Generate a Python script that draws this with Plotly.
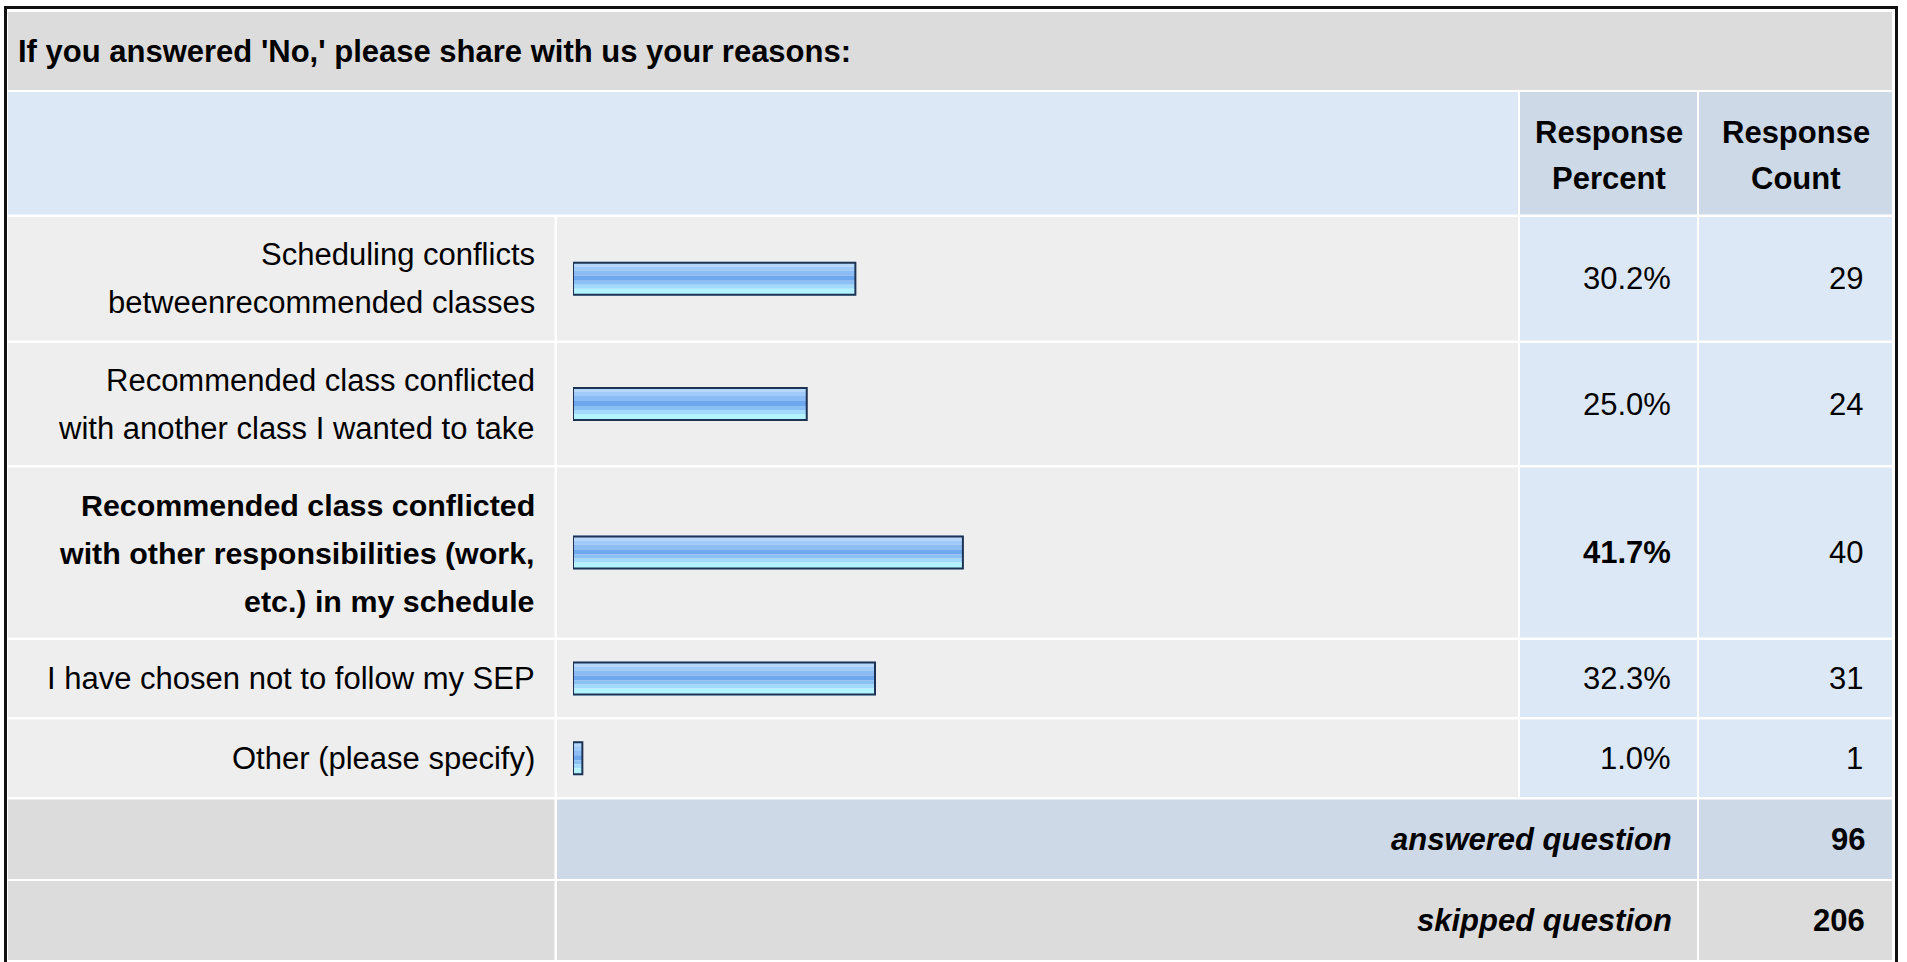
import plotly.graph_objects as go

# ---------------- data ----------------
title = "If you answered 'No,' please share with us your reasons:"
col_headers = ["Response<br>Percent", "Response<br>Count"]
categories = [
    "Scheduling conflicts<br>betweenrecommended classes",
    "Recommended class conflicted<br>with another class I wanted to take",
    "Recommended class conflicted<br>with other responsibilities (work,<br>etc.) in my schedule",
    "I have chosen not to follow my SEP",
    "Other (please specify)",
]
percents = [30.2, 25.0, 41.7, 32.3, 1.0]
counts = [29, 24, 40, 31, 1]
answered_label = "answered question"
answered_count = 96
skipped_label = "skipped question"
skipped_count = 206

# ---------------- layout (pixels) ----------------
W, H = 1907, 962
FONT = "Liberation Sans, Arial, Helvetica, sans-serif"
FS = 31
FS_BOLD_LABEL = 30.4

def px(x):
    return x / W

def py(y):
    return 1 - y / H

C_TITLE = "#dcdcdc"
C_ROW = "#eeeeee"
C_LBLUE = "#dce8f5"
C_DBLUE = "#cdd9e6"
C_BORDER = "#1e3353"

col_x = [(8, 554.5), (557, 1518), (1520, 1697), (1699, 1892)]
title_y = (12, 90)
header_y = (92, 214.5)
row_y = [(217, 340.5), (343, 465), (467.5, 637.5), (640, 717), (719.5, 797)]
ans_y = (799.5, 879)
skip_y = (881, 960)

shapes = []

def rect(x0, x1, y0, y1, color):
    shapes.append(dict(type="rect", xref="paper", yref="paper",
                       x0=px(x0), x1=px(x1), y0=py(y1), y1=py(y0),
                       fillcolor=color, line=dict(width=0), layer="below"))

# outer frame
shapes.append(dict(type="rect", xref="paper", yref="paper",
                   x0=px(5.5), x1=px(1896.5), y0=py(975), y1=py(7.5),
                   fillcolor="rgba(0,0,0,0)", line=dict(color="#111111", width=3), layer="below"))

rect(col_x[0][0], col_x[3][1], *title_y, C_TITLE)
rect(col_x[0][0], col_x[1][1], *header_y, C_LBLUE)
rect(*col_x[2], *header_y, C_DBLUE)
rect(*col_x[3], *header_y, C_DBLUE)
for (y0, y1) in row_y:
    rect(*col_x[0], y0, y1, C_ROW)
    rect(*col_x[1], y0, y1, C_ROW)
    rect(*col_x[2], y0, y1, C_LBLUE)
    rect(*col_x[3], y0, y1, C_LBLUE)
rect(*col_x[0], *ans_y, C_TITLE)
rect(col_x[1][0], col_x[2][1], *ans_y, C_DBLUE)
rect(*col_x[3], *ans_y, C_DBLUE)
rect(*col_x[0], *skip_y, C_TITLE)
rect(col_x[1][0], col_x[2][1], *skip_y, C_TITLE)
rect(*col_x[3], *skip_y, C_TITLE)

annotations = []

def text(x, y, s, anchor="right", size=FS):
    annotations.append(dict(xref="paper", yref="paper", x=px(x), y=py(y), text=s,
                            showarrow=False, xanchor=anchor, yanchor="middle",
                            font=dict(family=FONT, size=size, color="#000000")))

text(16, 51, "<b>%s</b>" % title, anchor="left")
HDR_LINE = 46
for hdr, (x0, x1) in zip(col_headers, col_x[2:]):
    lines = hdr.split("<br>")
    n = len(lines)
    c = sum(header_y) / 2 + 2
    for i, ln in enumerate(lines):
        text((x0 + x1) / 2, c + (i - (n - 1) / 2) * HDR_LINE, "<b>%s</b>" % ln, anchor="center")

best = percents.index(max(percents))
centers = []
LINE = 48
for i, (lab, (y0, y1)) in enumerate(zip(categories, row_y)):
    c = (y0 + y1) / 2
    centers.append(c)
    lines = lab.split("<br>")
    n = len(lines)
    for j, ln in enumerate(lines):
        yy = c + (j - (n - 1) / 2) * LINE
        if i == best:
            text(537, yy, "<b>%s</b>" % ln, size=FS_BOLD_LABEL)
        else:
            text(537, yy, ln)
    ptxt = "%.1f%%" % percents[i]
    text(1673, c, "<b>%s</b>" % ptxt if i == best else ptxt)
    text(1865, c, str(counts[i]))

text(1674, sum(ans_y) / 2, "<b><i>%s</i></b>" % answered_label)
text(1867, sum(ans_y) / 2, "<b>%d</b>" % answered_count)
text(1674, sum(skip_y) / 2, "<b><i>%s</i></b>" % skipped_label)
text(1867, sum(skip_y) / 2, "<b>%d</b>" % skipped_count)

# ---------------- bars ----------------
stripes = [(-17, -12, "#b4d7fb"), (-12, -8, "#9fcaf9"), (-8, -3, "#8bbcf4"),
           (-3, 2, "#6fa7ee"), (2, 6, "#8ac0f4"), (6, 10, "#a2dafb"), (10, 17, "#b3f3ff")]

fig = go.Figure()
for a, b, col in stripes:
    fig.add_trace(go.Bar(x=percents, y=centers, orientation="h", width=b - a, offset=a,
                         marker=dict(color=col, line=dict(width=0)),
                         hoverinfo="skip", showlegend=False))
fig.add_trace(go.Bar(x=percents, y=centers, orientation="h", width=32, offset=-16,
                     marker=dict(color="rgba(0,0,0,0)", line=dict(color=C_BORDER, width=2)),
                     hoverinfo="skip", showlegend=False))

BAR_X0 = 573
BAR_FULL = 935
fig.update_layout(
    width=W, height=H, margin=dict(l=0, r=0, t=0, b=0),
    paper_bgcolor="#ffffff", plot_bgcolor="rgba(0,0,0,0)",
    barmode="overlay",
    xaxis=dict(domain=[px(BAR_X0), px(BAR_X0 + BAR_FULL)], range=[0, 100],
               visible=False, fixedrange=True),
    yaxis=dict(domain=[0, 1], range=[H, 0], visible=False, fixedrange=True),
    shapes=shapes, annotations=annotations,
)

fig.write_html("out.html", config={"displayModeBar": False, "staticPlot": True},
               post_script="document.body.style.margin='0';document.body.style.overflow='hidden';")
